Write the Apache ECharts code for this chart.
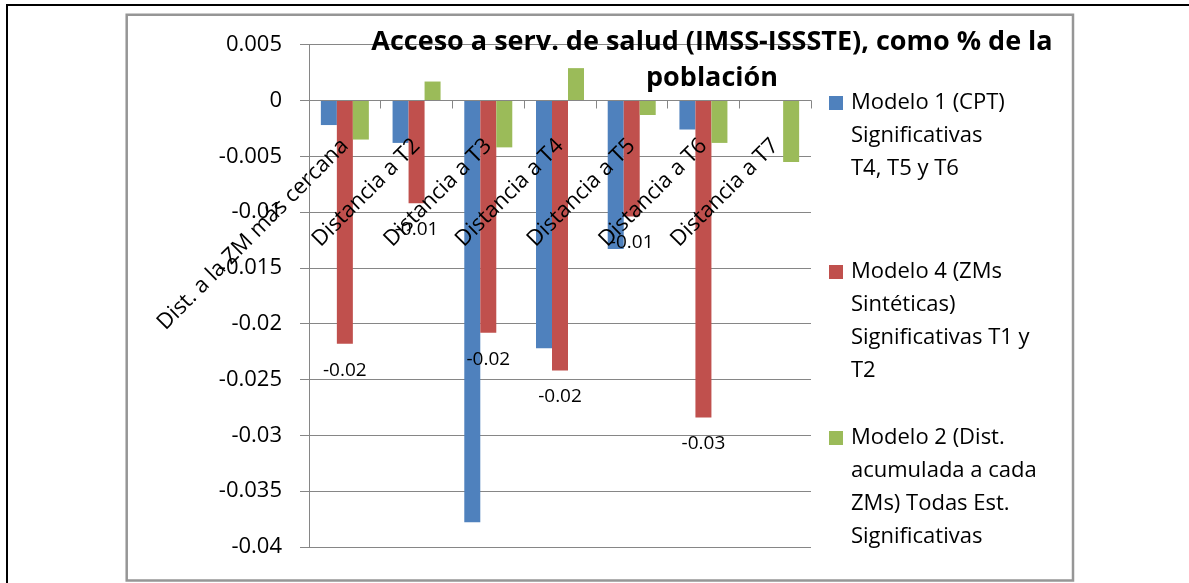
<!DOCTYPE html>
<html>
<head>
<meta charset="utf-8">
<script src="https://cdn.jsdelivr.net/npm/echarts@6/dist/echarts.min.js"></script>
<style>
html,body{margin:0;padding:0;background:#fff;}
#chart{width:1189px;height:583px;}
</style>
</head>
<body>
<div id="chart"></div>
<script>
// ---- data ----
const categories = ['Dist. a la ZM más cercana', 'Distancia a T2', 'Distancia a T3', 'Distancia a T4', 'Distancia a T5', 'Distancia a T6', 'Distancia a T7'];
const modelo1 = [-0.0022, -0.0038, -0.0378, -0.0222, -0.0133, -0.0026, null];
const modelo4 = [-0.0218, -0.0092, -0.0208, -0.0242, -0.0104, -0.0284, null];
const modelo2 = [-0.0035, 0.0017, -0.0042, 0.0029, -0.0013, -0.0038, -0.0055];
const seriesNames = [
  'Modelo 1 (CPT) Significativas T4, T5 y T6',
  'Modelo 4 (ZMs Sintéticas) Significativas T1 y T2',
  'Modelo 2 (Dist. acumulada a cada ZMs) Todas Est. Significativas'
];
const legendLines = [
  ['Modelo 1 (CPT)', 'Significativas', 'T4, T5 y T6'],
  ['Modelo 4 (ZMs', 'Sintéticas)', 'Significativas T1 y', 'T2'],
  ['Modelo 2 (Dist.', 'acumulada a cada', 'ZMs) Todas Est.', 'Significativas']
];
const yTicks = [0.005, 0, -0.005, -0.01, -0.015, -0.02, -0.025, -0.03, -0.035, -0.04];
const titleText = 'Acceso a serv. de salud (IMSS-ISSSTE), como % de la\npoblación';

// ---- style / layout ----
const FONT = 'Open Sans';
const colors = ['#4F81BD', '#C0504D', '#9BBB59'];
const gridColor = '#868686';
const LH = 33;
const MARK = 14;
const legendTops = [86.5, 255.5, 421.5];
const GRID = {left: 309, top: 44.7, right: 378, bottom: 36.1};
const gridHeight = 583 - GRID.top - GRID.bottom;

const yMin = yTicks[yTicks.length - 1];
const yMax = yTicks[0];
const yInterval = +(yTicks[0] - yTicks[1]).toFixed(6);
// category axis sits on the value 0 line
const zeroOffset = -gridHeight * (yMax - 0) / (yMax - yMin);

const chart = echarts.init(document.getElementById('chart'), null, {renderer: 'canvas'});

const legends = seriesNames.map((name, i) => {
  const H = legendLines[i].length * LH;
  const y0 = (LH - MARK) / 2;
  return {
    data: [{
      name: name,
      icon: 'path://M0,0M0,' + y0 + 'h' + MARK + 'v' + MARK + 'h-' + MARK + 'zM' + MARK + ',' + H
    }],
    orient: 'vertical',
    left: 829,
    top: legendTops[i],
    padding: 0,
    itemGap: 0,
    itemWidth: MARK,
    itemHeight: H,
    selectedMode: false,
    formatter: n => legendLines[seriesNames.indexOf(n)].join('\n'),
    textStyle: {fontFamily: FONT, fontSize: 22, color: '#000', lineHeight: LH, padding: [0, 0, 0, 3]}
  };
});

const option = {
  backgroundColor: '#fff',
  animation: false,
  title: {
    text: titleText,
    left: 712,
    top: 24,
    padding: 0,
    textAlign: 'center',
    textVerticalAlign: 'top',
    textStyle: {fontFamily: FONT, fontWeight: 'bold', fontSize: 27, color: '#000', lineHeight: 36}
  },
  legend: legends,
  grid: {left: GRID.left, top: GRID.top, right: GRID.right, bottom: GRID.bottom, containLabel: false, outerBoundsMode: 'none'},
  xAxis: {
    type: 'category',
    data: categories,
    position: 'top',
    offset: zeroOffset,
    z: 5,
    axisLine: {show: true, onZero: false, lineStyle: {color: gridColor, width: 1}},
    axisTick: {show: true, inside: true, length: 8, alignWithLabel: false, lineStyle: {color: gridColor}},
    axisLabel: {
      inside: true,
      interval: 0, rotate: -45, margin: 42,
      fontFamily: FONT, fontSize: 22, color: '#000'
    },
    splitLine: {show: false}
  },
  yAxis: {
    type: 'value',
    min: yMin,
    max: yMax,
    interval: yInterval,
    axisLine: {show: true, lineStyle: {color: gridColor, width: 1}},
    axisTick: {show: true, inside: false, length: 9, lineStyle: {color: gridColor}},
    axisLabel: {
      margin: 27, fontFamily: FONT, fontSize: 22, color: '#000',
      formatter: v => String(+(+v).toFixed(3))
    },
    splitLine: {show: true, lineStyle: {color: gridColor, width: 1}}
  },
  series: [
    {
      name: seriesNames[0], type: 'bar', data: modelo1,
      barWidth: 16, barGap: '0%',
      itemStyle: {color: colors[0]}
    },
    {
      name: seriesNames[1], type: 'bar', data: modelo4,
      barWidth: 16, barGap: '0%',
      itemStyle: {color: colors[1]},
      label: {
        show: true, position: 'bottom', distance: 17,
        fontFamily: FONT, fontSize: 19, color: '#000',
        formatter: p => (p.value == null ? '' : p.value.toFixed(2))
      }
    },
    {
      name: seriesNames[2], type: 'bar', data: modelo2,
      barWidth: 16, barGap: '0%',
      itemStyle: {color: colors[2]}
    }
  ],
  graphic: [
    {
      type: 'rect', z: -10, silent: true,
      shape: {x: 7, y: 5, width: 1200, height: 620},
      style: {fill: 'none', stroke: '#000', lineWidth: 2}
    },
    {
      type: 'rect', z: -10, silent: true,
      shape: {x: 126.7, y: 14.7, width: 946.3, height: 565.8},
      style: {fill: 'none', stroke: '#969696', lineWidth: 2.5}
    }
  ]
};
chart.setOption(option);
</script>
</body>
</html>
